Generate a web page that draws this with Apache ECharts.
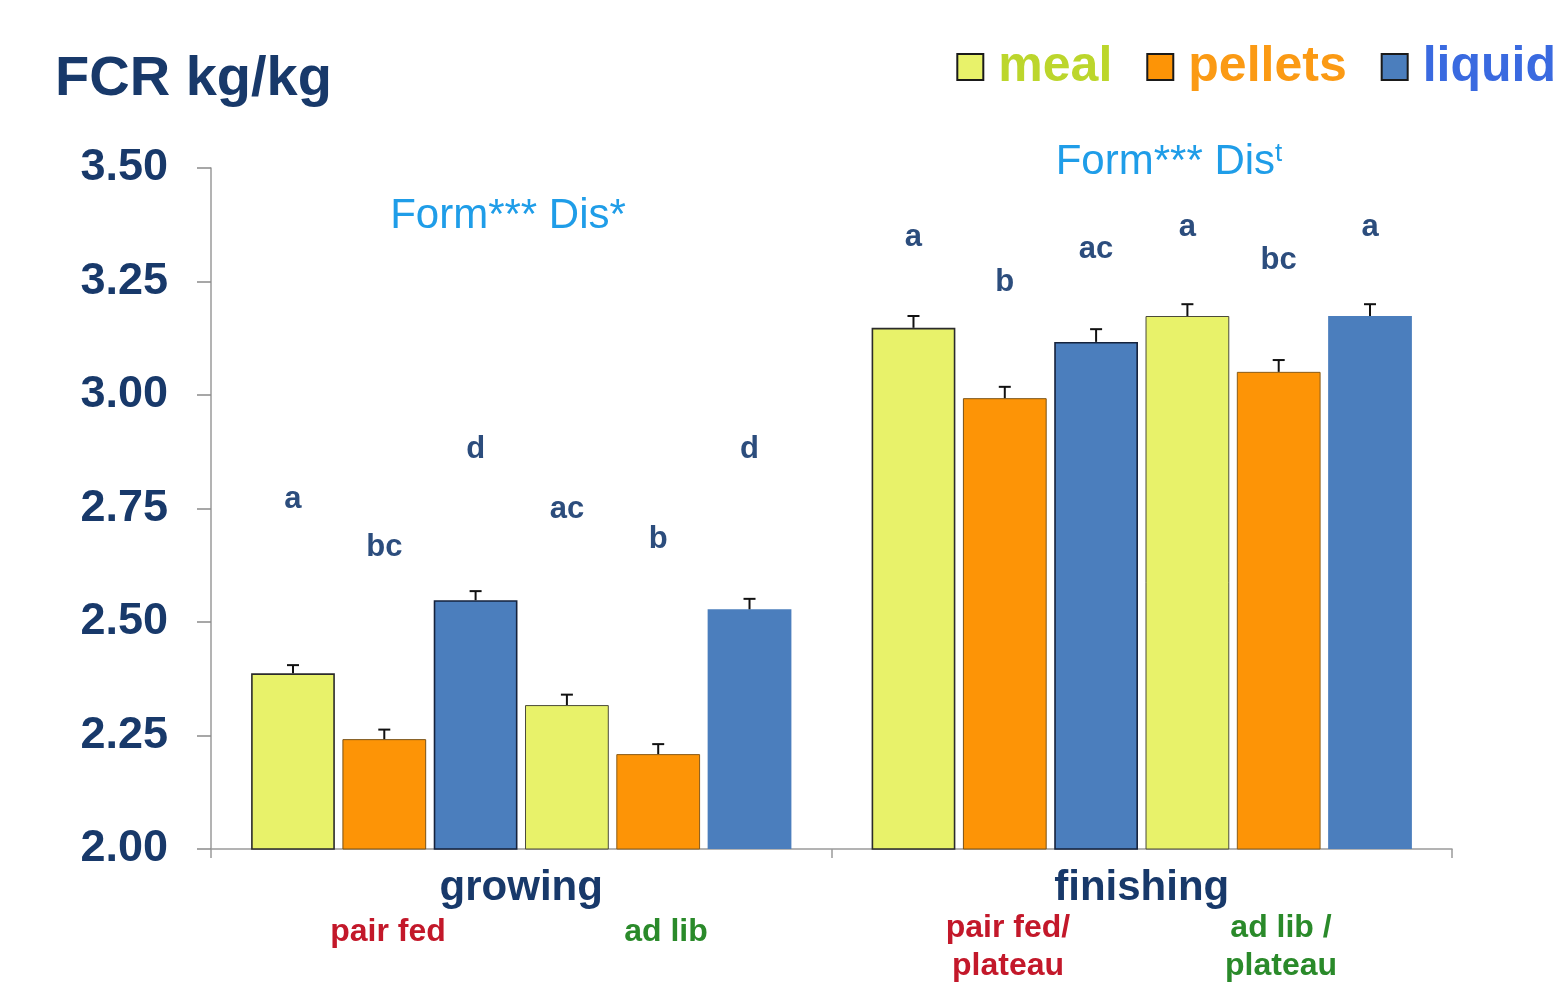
<!DOCTYPE html>
<html>
<head>
<meta charset="utf-8">
<title>FCR kg/kg</title>
<script src="https://cdn.jsdelivr.net/npm/echarts@6/dist/echarts.min.js"></script>
<style>
  html, body { margin: 0; padding: 0; background: #ffffff; }
  #chart { width: 1566px; height: 985px; }
</style>
</head>
<body>
<div id="chart"></div>
<script>
// Feed conversion ratio by feed form, feeding regime and phase
const phases = ['growing', 'finishing'];
const forms = ['meal', 'pellets', 'liquid'];

// FCR means per phase [growing, finishing]
const mealPairFed    = [2.387, 3.148];
const pelletsPairFed = [2.242, 2.993];
const liquidPairFed  = [2.548, 3.117];
const mealAdLib      = [2.317, 3.174];
const pelletsAdLib   = [2.209, 3.051];
const liquidAdLib    = [2.528, 3.174];

// standard errors (drawn upward only)
const mealPairFedErr    = [0.018, 0.026];
const pelletsPairFedErr = [0.021, 0.025];
const liquidPairFedErr  = [0.020, 0.028];
const mealAdLibErr      = [0.023, 0.026];
const pelletsAdLibErr   = [0.022, 0.026];
const liquidAdLibErr    = [0.023, 0.026];

// significance letters and the FCR level at which each is written
const mealPairFedLetters    = ['a', 'a'];
const pelletsPairFedLetters = ['bc', 'b'];
const liquidPairFedLetters  = ['d', 'ac'];
const mealAdLibLetters      = ['ac', 'a'];
const pelletsAdLibLetters   = ['b', 'bc'];
const liquidAdLibLetters    = ['d', 'a'];

const mealPairFedLetterAt    = [2.769, 3.348];
const pelletsPairFedLetterAt = [2.665, 3.249];
const liquidPairFedLetterAt  = [2.879, 3.320];
const mealAdLibLetterAt      = [2.747, 3.368];
const pelletsAdLibLetterAt   = [2.681, 3.297];
const liquidAdLibLetterAt    = [2.879, 3.368];

const yTicks = { min: 2.0, max: 3.5, step: 0.25 };

const FONT = "'Liberation Sans', Arial, Helvetica, sans-serif";
const NAVY = '#18396a';
const colors = { meal: '#e8f26a', pellets: '#fd9406', liquid: '#4b7ebd' };
const legendText = { meal: '#bcd62c', pellets: '#fb9a14', liquid: '#3a6ae0' };

const BAR_W = 0.135;   // bar width as share of the category band
const BAR_GAP = 0.09;  // gap between bars as share of bar width

// the six bar groups in drawing order
const groups = [
  { form: 'meal',    values: mealPairFed,    err: mealPairFedErr,    letters: mealPairFedLetters,    at: mealPairFedLetterAt,    border: '#2b2b2b', bw: 1.6 },
  { form: 'pellets', values: pelletsPairFed, err: pelletsPairFedErr, letters: pelletsPairFedLetters, at: pelletsPairFedLetterAt, border: '#7a5215', bw: 1.0 },
  { form: 'liquid',  values: liquidPairFed,  err: liquidPairFedErr,  letters: liquidPairFedLetters,  at: liquidPairFedLetterAt,  border: '#15223c', bw: 1.6 },
  { form: 'meal',    values: mealAdLib,      err: mealAdLibErr,      letters: mealAdLibLetters,      at: mealAdLibLetterAt,      border: '#4a4a3a', bw: 1.0 },
  { form: 'pellets', values: pelletsAdLib,   err: pelletsAdLibErr,   letters: pelletsAdLibLetters,   at: pelletsAdLibLetterAt,   border: '#8a5c18', bw: 1.0 },
  { form: 'liquid',  values: liquidAdLib,    err: liquidAdLibErr,    letters: liquidAdLibLetters,    at: liquidAdLibLetterAt,    border: colors.liquid, bw: 0 }
];

const barSeries = groups.map(g => ({
  type: 'bar',
  name: g.form,
  data: g.values,
  barWidth: (BAR_W * 100) + '%',
  barGap: (BAR_GAP * 100) + '%',
  itemStyle: { color: colors[g.form], borderColor: g.border, borderWidth: g.bw },
  z: 2
}));

// error bars and letters: [phaseIndex, value, error, slot, letterLevel, letter]
const annoData = [];
groups.forEach((g, slot) => {
  phases.forEach((p, i) => {
    annoData.push([i, g.values[i], g.err[i], slot, g.at[i], g.letters[i]]);
  });
});

const annoSeries = {
  type: 'custom',
  name: 'annotations',
  data: annoData,
  z: 5,
  silent: true,
  clip: false,
  renderItem: function (params, api) {
    const cat = api.value(0), val = api.value(1), err = api.value(2);
    const slot = api.value(3), level = api.value(4);
    const letter = annoData[params.dataIndex][5];
    const band = api.size([1, 0])[0];
    const bw = band * BAR_W, gap = bw * BAR_GAP;
    const total = groups.length * bw + (groups.length - 1) * gap;
    const c = api.coord([cat, val]);
    const x = c[0] - total / 2 + slot * (bw + gap) + bw / 2;
    const yTop = api.coord([cat, val + err])[1];
    const yLetter = api.coord([cat, level])[1];
    const cap = 6;
    return {
      type: 'group',
      children: [
        { type: 'line', shape: { x1: x, y1: c[1], x2: x, y2: yTop }, style: { stroke: '#111', lineWidth: 2 } },
        { type: 'line', shape: { x1: x - cap, y1: yTop, x2: x + cap, y2: yTop }, style: { stroke: '#111', lineWidth: 2 } },
        { type: 'text', x: x, y: yLetter, style: {
            text: letter, align: 'center', verticalAlign: 'middle',
            fill: '#2c4d7d', fontSize: 31, fontWeight: 'bold', fontFamily: FONT } }
      ]
    };
  }
};

const chart = echarts.init(document.getElementById('chart'), null, { renderer: 'canvas' });

chart.setOption({
  backgroundColor: '#ffffff',
  animation: false,
  textStyle: { fontFamily: FONT },
  grid: { left: 211, right: 114, top: 168, bottom: 136, containLabel: false },
  legend: {
    right: 5, top: 37,
    itemWidth: 26, itemHeight: 26, itemGap: 34,
    icon: 'rect',
    selectedMode: false,
    itemStyle: { borderColor: '#1a1a1a', borderWidth: 2 },
    textStyle: { fontSize: 50, fontWeight: 'bold', fontFamily: FONT },
    formatter: name => '\u2009' + name,
    data: forms.map(f => ({ name: f, textStyle: { color: legendText[f] } }))
  },
  xAxis: {
    type: 'category',
    data: phases,
    axisLine: { lineStyle: { color: '#9a9a9a', width: 1.5 } },
    axisTick: { show: true, length: 9, lineStyle: { color: '#9a9a9a', width: 1.5 } },
    axisLabel: { color: NAVY, fontSize: 42, fontWeight: 'bold', fontFamily: FONT, margin: 18 }
  },
  yAxis: {
    type: 'value',
    min: yTicks.min, max: yTicks.max, interval: yTicks.step,
    splitLine: { show: false },
    axisLine: { show: true, lineStyle: { color: '#9a9a9a', width: 1.5 } },
    axisTick: { show: true, length: 14, lineStyle: { color: '#8a8a8a', width: 1.5 } },
    axisLabel: {
      color: NAVY, fontSize: 45, fontWeight: 'bold', fontFamily: FONT, margin: 43,
      formatter: v => v.toFixed(2)
    }
  },
  graphic: [
    { type: 'text', left: 55, top: 52, style: { text: 'FCR kg/kg', fill: NAVY, fontSize: 56, fontWeight: 'bold', fontFamily: FONT } },
    { type: 'text', x: 508, y: 216, style: { text: 'Form*** Dis*', fill: '#1f9de8', fontSize: 42, fontFamily: FONT, align: 'center', verticalAlign: 'middle' } },
    { type: 'text', x: 1169, y: 162, style: {
        text: '{m|Form*** Dis}{s|t}', align: 'center', verticalAlign: 'middle',
        rich: {
          m: { fill: '#1f9de8', fontSize: 42, fontFamily: FONT, color: '#1f9de8' },
          s: { fill: '#1f9de8', fontSize: 26, fontFamily: FONT, color: '#1f9de8', verticalAlign: 'top', padding: [0, 0, 14, 0] }
        } } },
    { type: 'text', x: 388, y: 932, style: { text: 'pair fed', fill: '#c3182a', fontSize: 32, fontWeight: 'bold', fontFamily: FONT, align: 'center', verticalAlign: 'middle' } },
    { type: 'text', x: 666, y: 932, style: { text: 'ad lib', fill: '#2a8a2a', fontSize: 32, fontWeight: 'bold', fontFamily: FONT, align: 'center', verticalAlign: 'middle' } },
    { type: 'text', x: 1008, y: 947, style: { text: 'pair fed/\nplateau', fill: '#c3182a', fontSize: 32, lineHeight: 38, fontWeight: 'bold', fontFamily: FONT, align: 'center', verticalAlign: 'middle' } },
    { type: 'text', x: 1281, y: 947, style: { text: 'ad lib /\nplateau', fill: '#2a8a2a', fontSize: 32, lineHeight: 38, fontWeight: 'bold', fontFamily: FONT, align: 'center', verticalAlign: 'middle' } }
  ],
  series: barSeries.concat([annoSeries])
});
</script>
</body>
</html>
